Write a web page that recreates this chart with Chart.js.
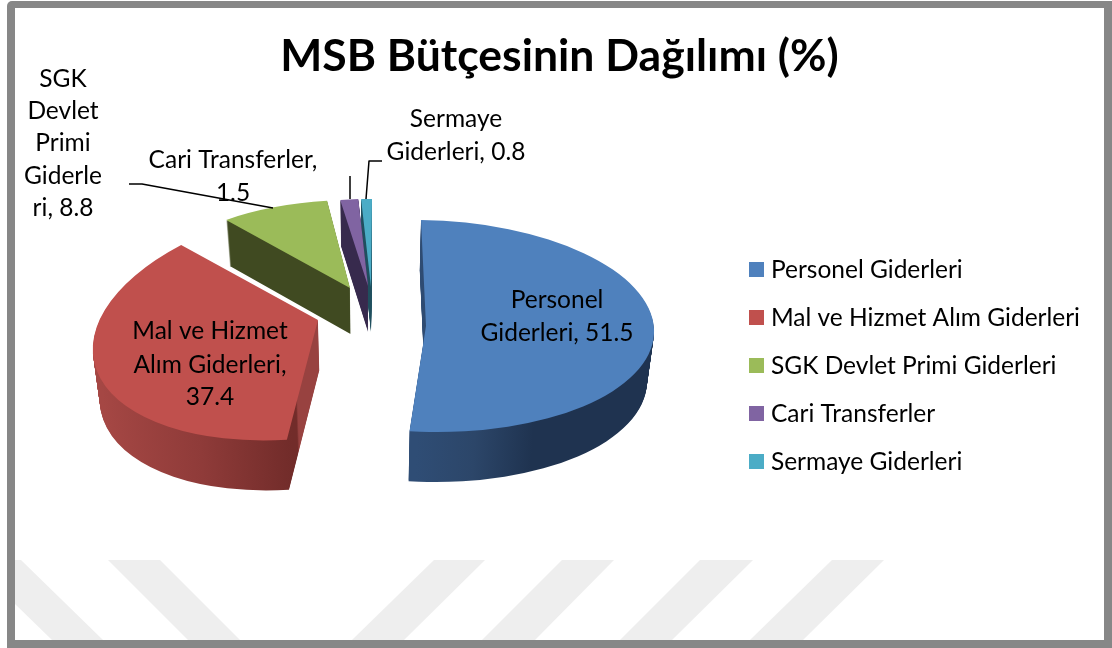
<!DOCTYPE html>
<html lang="tr">
<head>
<meta charset="utf-8">
<style>html,body{margin:0;padding:0;background:#fff}canvas{display:block}</style>
<script src="https://cdn.jsdelivr.net/npm/chart.js@4/dist/chart.umd.min.js"></script>
</head>
<body>
<canvas id="c" width="1112" height="648"></canvas>
<script>
const chartTitle = 'MSB Bütçesinin Dağılımı (%)';
const categories = ['Personel Giderleri','Mal ve Hizmet Alım Giderleri','SGK Devlet Primi Giderleri','Cari Transferler','Sermaye Giderleri'];
const values = [51.5, 37.4, 8.8, 1.5, 0.8];
const colors = ['#4f81bd','#c0504d','#9bbb59','#8064a2','#4bacc6'];
const labelLines = [
  ['Personel','Giderleri, 51.5'],
  ['Mal ve Hizmet','Alım Giderleri,','37.4'],
  ['SGK','Devlet','Primi','Giderle','ri, 8.8'],
  ['Cari Transferler,','1.5'],
  ['Sermaye','Giderleri, 0.8']
];

const FONT = 'Lato, Carlito, sans-serif';
// placement of each exploded slice on the page (tilted-disc projection)
const place = [
  {E:426,F:326,a:228,b:5,  c:3,  d:106,depth:50},
  {E:318,F:320,a:225,b:-10,c:-24,d:118,depth:50},
  {E:350,F:288,a:200,b:-6, c:1,  d:88, depth:46},
  {E:368,F:286,a:193,b:0,  c:0,  d:87, depth:46},
  {E:371,F:287,a:217,b:-1, c:0,  d:88, depth:45}
];
const sideStops = [
  [[412,'#2f4d75'],[470,'#2c4669'],[530,'#1f3350'],[660,'#1f3350']],
  [[103,'#a54744'],[208,'#8f3b39'],[300,'#722c2a'],[303,'#722c2a'],[304,'#984240'],[337,'#984240']],
  [[200,'#404a21'],[360,'#404a21']],
  [[330,'#372a4d'],[375,'#372a4d']],
  [[355,'#1f4f5e'],[375,'#1f4f5e']]
];
const labelPos = [
  {x:557,y:[300,333]},
  {x:210,y:[331,365,397]},
  {x:63, y:[79,111,143,176,208]},
  {x:233,y:[160,193]},
  {x:456,y:[119,152]}
];
const leaders = [
  [[129,184],[142,184],[273,208]],
  [[350,176],[350,199]],
  [[382,161],[369,161],[366,199]]
];
const stripes = [
  [[-30,560],[21,560],[103,640],[52,640]],
  [[108,560],[160,560],[240,640],[188,640]],
  [[434,560],[485,560],[404,640],[352,640]],
  [[562,560],[614,560],[535,640],[482,640]],
  [[700,560],[753,560],[672,640],[620,640]],
  [[832,560],[884,560],[803,640],[750,640]]
];

function arcOpts(fill){
  return {circular:true,borderAlign:'center',borderWidth:0,borderColor:'transparent',
          backgroundColor:fill,offset:0,spacing:0,borderRadius:0,selfJoin:false,
          borderDash:[],borderDashOffset:0,borderJoinStyle:'round'};
}
function poly(ctx,pts){
  ctx.beginPath();
  pts.forEach((p,i)=> i?ctx.lineTo(p[0],p[1]):ctx.moveTo(p[0],p[1]));
}

const frame = {
  id:'frame',
  beforeDraw(chart){
    const ctx = chart.ctx;
    ctx.save();
    ctx.fillStyle='#fff'; ctx.fillRect(0,0,chart.width,chart.height);
    ctx.fillStyle='#878787';
    ctx.beginPath(); ctx.roundRect(7,1,1105,647,[5,0,0,0]); ctx.fill();
    ctx.fillStyle='#fff'; ctx.fillRect(15,8,1089,632);
    ctx.beginPath(); ctx.rect(15,8,1089,632); ctx.clip();
    ctx.fillStyle='#eeeeee';
    stripes.forEach(s=>{poly(ctx,s); ctx.fill();});
    ctx.restore();
  }
};

const pie3d = {
  id:'pie3d',
  beforeDatasetsDraw(chart){
    const ctx = chart.ctx;
    const arcs = chart.getDatasetMeta(0).data;
    const apply = (el,p)=>{
      const R = el.outerRadius;
      ctx.translate(p.E,p.F);
      ctx.transform(p.a/R,p.c/R,p.b/R,p.d/R,0,0);
      ctx.translate(-el.x,-el.y);
    };
    for(let i=arcs.length-1;i>=0;i--){
      const el = arcs[i], p = place[i], R = el.outerRadius;
      const x0 = sideStops[i][0][0], x1 = sideStops[i][sideStops[i].length-1][0];
      const toSrc = X => (X-p.E)*R/p.a + el.x;
      const g = ctx.createLinearGradient(toSrc(x0),0,toSrc(x1),0);
      sideStops[i].forEach(s=>g.addColorStop((s[0]-x0)/(x1-x0),s[1]));
      const side = Object.create(el); side.options = arcOpts(g);
      for(let t=p.depth;t>=1;t--){
        ctx.save();
        ctx.translate(371,t);
        ctx.scale(1-0.025*t/p.depth,1);
        ctx.translate(-371,0);
        apply(el,p);
        side.draw(ctx);
        ctx.restore();
      }
      const top = Object.create(el); top.options = arcOpts(colors[i]);
      ctx.save(); apply(el,p); top.draw(ctx); ctx.restore();
    }
    return false;
  },
  afterDraw(chart){
    const ctx = chart.ctx;
    ctx.save();
    ctx.strokeStyle='#000'; ctx.lineWidth=1.5; ctx.lineJoin='round';
    leaders.forEach(l=>{poly(ctx,l); ctx.stroke();});
    ctx.fillStyle='#000'; ctx.font='24.5px '+FONT;
    ctx.textAlign='center'; ctx.textBaseline='middle';
    labelLines.forEach((lines,i)=>{
      lines.forEach((t,k)=>ctx.fillText(t,labelPos[i].x,labelPos[i].y[k]));
    });
    ctx.restore();
  }
};

function swatch(color){
  const s = document.createElement('canvas');
  s.width=15; s.height=15;
  const x = s.getContext('2d'); x.fillStyle=color; x.fillRect(0,0,15,15);
  return s;
}

new Chart(document.getElementById('c'),{
  type:'pie',
  data:{labels:categories,datasets:[{data:values,backgroundColor:colors,borderWidth:0}]},
  options:{
    responsive:false,animation:false,radius:100,
    layout:{padding:{left:29,right:22,top:0,bottom:0}},
    plugins:{
      tooltip:{enabled:false},
      title:{display:true,text:chartTitle,color:'#000',
             font:{family:FONT,size:44.5,weight:'bold'},padding:{top:30,bottom:0}},
      legend:{
        position:'right',align:'center',fullSize:false,
        labels:{
          color:'#000',font:{family:FONT,size:24.5},padding:23.5,
          usePointStyle:true,boxWidth:4.5,boxHeight:15,
          generateLabels:(chart)=>categories.map((t,i)=>({
            text:t,fillStyle:colors[i],strokeStyle:colors[i],lineWidth:0,hidden:false,index:i,
            pointStyle:swatch(colors[i]),fontColor:'#000'
          }))
        }
      }
    }
  },
  plugins:[frame,pie3d]
});
</script>
</body>
</html>
